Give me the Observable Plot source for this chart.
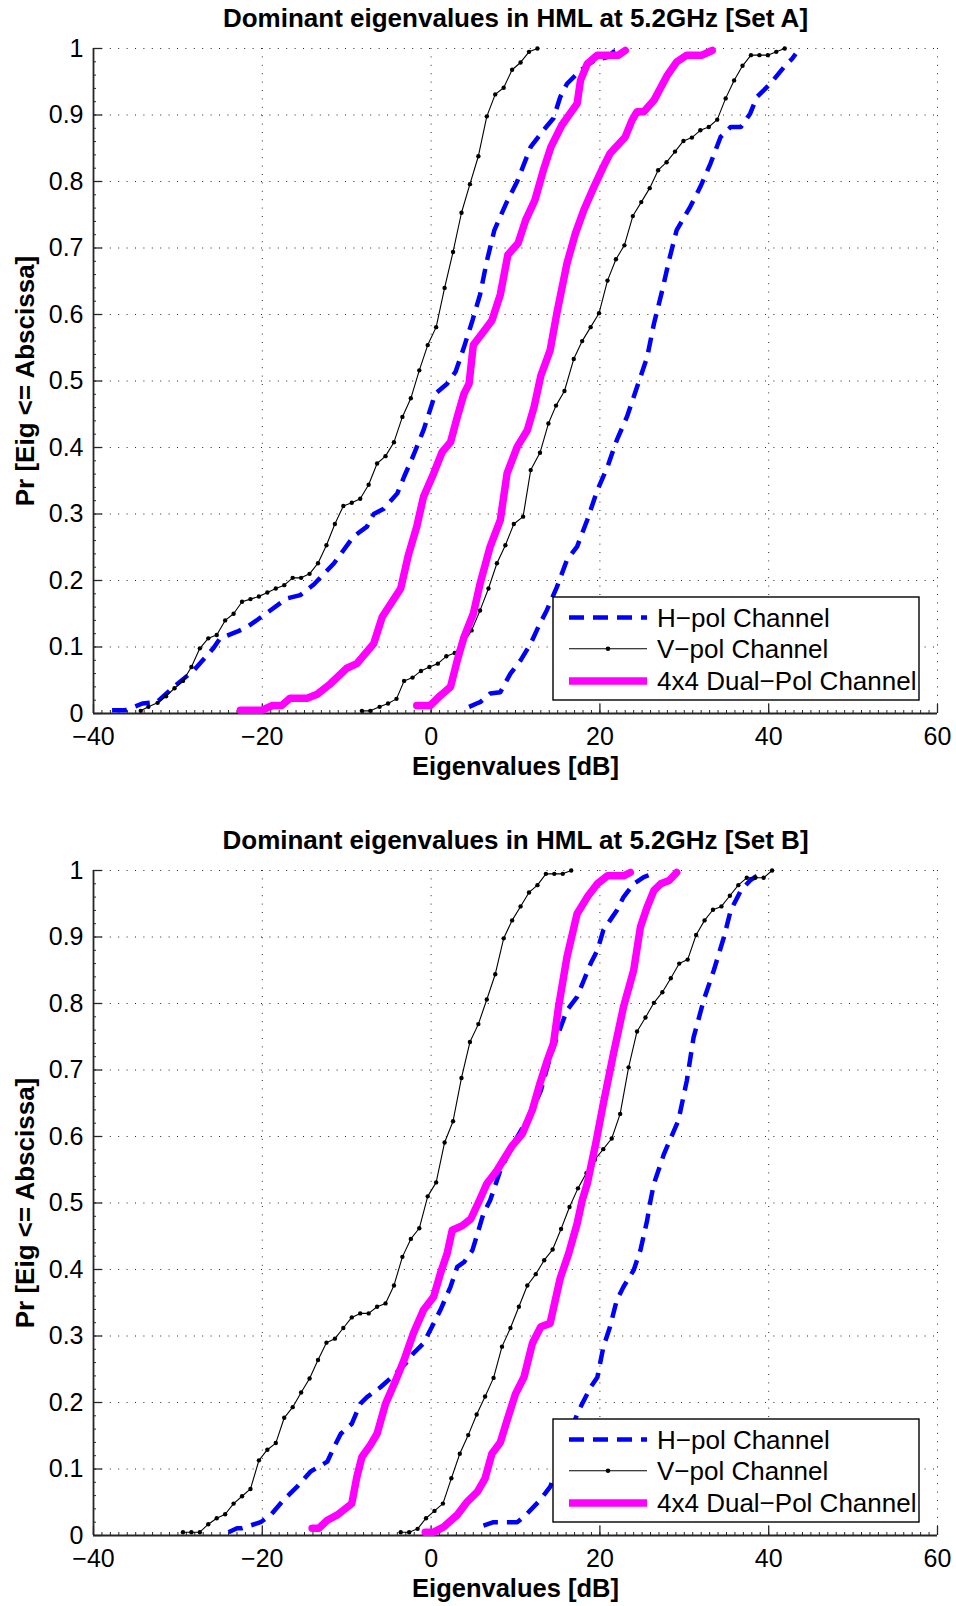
<!DOCTYPE html>
<html>
<head>
<meta charset="utf-8">
<script src="https://cdn.jsdelivr.net/npm/d3@7"></script>
<script src="https://cdn.jsdelivr.net/npm/@observablehq/plot@0.6"></script>
<style>
  html, body { margin: 0; padding: 0; background: #fff; }
  #charts svg { display: block; }
</style>
</head>
<body>
<div id="charts"></div>
<script>
// ---------- axis ticks ----------
const xTicks = [-40, -20, 0, 20, 40, 60];
const yTicks = [0, 0.1, 0.2, 0.3, 0.4, 0.5, 0.6, 0.7, 0.8, 0.9, 1];

// ---------- legend / text ----------
const seriesKeys = ["H", "V", "D"];
const seriesNames = ["H\u2212pol Channel", "V\u2212pol Channel", "4x4 Dual\u2212Pol Channel"];
const titles = ["Dominant eigenvalues in HML at 5.2GHz [Set A]", "Dominant eigenvalues in HML at 5.2GHz [Set B]"];
const xLabel = "Eigenvalues [dB]";
const yLabel = "Pr [Eig <= Abscissa]";

// ---------- Set A: empirical CDFs (eigenvalue in dB, probability) ----------
// H-pol, weaker eigenvalue
const aHLowDb = [-37.8, -36.2, -34.2, -32.5, -30.5, -28.1, -25.8, -25.0, -23.0, -21.8,
  -19.8, -17.1, -15.5, -13.9, -11.5, -9.2, -7.6, -6.8, -5.6, -4.0,
  -3.2, -2.1, -0.9, 0.5, 1.9, 2.9, 3.9, 4.9, 5.8, 6.6,
  7.5, 9.0, 10.2, 11.8, 13.3, 14.5, 15.3, 16.1, 17.7, 19.3,
  20.9, 21.6, 22.4];
const aHLowP = [0.005, 0.005, 0.015, 0.017, 0.040, 0.065, 0.098, 0.113, 0.123, 0.130,
  0.148, 0.173, 0.178, 0.194, 0.226, 0.266, 0.281, 0.300, 0.308, 0.331,
  0.356, 0.388, 0.426, 0.481, 0.496, 0.514, 0.551, 0.591, 0.630, 0.680,
  0.727, 0.770, 0.800, 0.852, 0.877, 0.895, 0.927, 0.947, 0.967, 0.982,
  0.987, 0.995, 0.997];
// H-pol, dominant eigenvalue
const aHHighDb = [4.5, 5.4, 5.8, 7.0, 8.2, 9.4, 10.6, 11.8, 12.7, 13.7,
  14.9, 16.1, 17.3, 18.5, 19.7, 20.9, 22.0, 23.2, 24.4, 25.6,
  26.4, 27.4, 28.2, 29.1, 30.7, 31.9, 33.1, 34.3, 35.5, 36.7,
  37.8, 38.6, 40.2, 41.8, 42.8, 43.2];
const aHHighP = [0.010, 0.015, 0.017, 0.030, 0.032, 0.060, 0.080, 0.105, 0.130, 0.155,
  0.190, 0.231, 0.251, 0.291, 0.336, 0.371, 0.411, 0.446, 0.491, 0.536,
  0.586, 0.637, 0.682, 0.727, 0.762, 0.792, 0.827, 0.867, 0.882, 0.882,
  0.902, 0.927, 0.947, 0.972, 0.985, 0.992];
// V-pol, weaker eigenvalue
const aVLowDb = [-34.4, -33.5, -32.4, -31.4, -30.4, -29.4, -28.4, -27.4, -26.4, -25.4,
  -24.4, -23.4, -22.4, -21.4, -20.4, -19.4, -18.4, -17.4, -16.4, -15.4,
  -14.4, -13.4, -12.4, -11.4, -10.4, -9.4, -8.4, -7.4, -6.4, -5.4,
  -4.4, -3.4, -2.4, -1.4, -0.4, 0.6, 1.6, 2.6, 3.6, 4.6,
  5.6, 6.6, 7.6, 8.6, 9.6, 10.6, 11.6, 12.6];
const aVLowP = [0.004, 0.010, 0.016, 0.026, 0.038, 0.049, 0.070, 0.098, 0.113, 0.118,
  0.140, 0.150, 0.168, 0.172, 0.176, 0.182, 0.188, 0.193, 0.204, 0.204,
  0.210, 0.226, 0.253, 0.285, 0.312, 0.317, 0.323, 0.344, 0.376, 0.387,
  0.408, 0.446, 0.474, 0.516, 0.554, 0.581, 0.640, 0.694, 0.753, 0.796,
  0.838, 0.898, 0.931, 0.941, 0.968, 0.979, 0.995, 1.0];
// V-pol, dominant eigenvalue
const aVHighDb = [-8.2, -7.2, -6.1, -5.1, -4.1, -3.2, -2.2, -1.2, -0.2, 0.8,
  1.8, 2.8, 3.8, 4.8, 5.8, 6.8, 7.8, 8.8, 9.8, 10.9,
  11.8, 12.9, 13.9, 14.8, 15.8, 16.9, 17.9, 18.9, 19.9, 20.9,
  21.9, 22.9, 23.9, 24.9, 25.9, 26.9, 27.9, 28.9, 29.9, 30.9,
  31.9, 32.9, 33.9, 34.9, 35.9, 36.9, 37.9, 38.9, 39.9, 40.9,
  41.9];
const aVHighP = [0.004, 0.004, 0.010, 0.015, 0.022, 0.049, 0.054, 0.064, 0.070, 0.075,
  0.086, 0.091, 0.105, 0.125, 0.155, 0.188, 0.226, 0.253, 0.285, 0.296,
  0.366, 0.392, 0.436, 0.463, 0.485, 0.533, 0.560, 0.581, 0.602, 0.651,
  0.683, 0.704, 0.748, 0.769, 0.790, 0.817, 0.829, 0.845, 0.861, 0.866,
  0.877, 0.882, 0.893, 0.925, 0.952, 0.974, 0.990, 0.990, 0.990, 0.995,
  1.0];
// 4x4 dual-pol, weaker eigenvalue
const aDLowDb = [-22.6, -20.0, -18.8, -17.7, -16.7, -14.7, -13.5, -11.9, -10.0, -8.8,
  -6.8, -5.8, -3.6, -2.7, -1.7, -0.9, 0.3, 1.3, 2.3, 3.1,
  3.9, 4.5, 5.0, 6.2, 7.2, 8.2, 9.1, 10.3, 11.2, 12.3,
  13.3, 14.2, 15.5, 17.3, 17.7, 18.5, 19.7, 22.2, 23.0];
const aDLowP = [0.005, 0.005, 0.012, 0.012, 0.023, 0.023, 0.029, 0.045, 0.068, 0.075,
  0.105, 0.145, 0.188, 0.238, 0.281, 0.326, 0.361, 0.393, 0.408, 0.446,
  0.481, 0.496, 0.554, 0.574, 0.591, 0.630, 0.690, 0.707, 0.742, 0.772,
  0.817, 0.852, 0.885, 0.917, 0.952, 0.977, 0.990, 0.990, 0.997];
// 4x4 dual-pol, dominant eigenvalue
const aDHighDb = [-1.7, -0.1, 1.1, 2.3, 3.1, 3.9, 5.0, 5.8, 7.0, 8.2,
  9.0, 10.2, 11.4, 12.2, 13.0, 14.1, 14.9, 16.1, 17.1, 18.1,
  19.3, 20.4, 21.2, 23.0, 23.8, 24.4, 25.2, 26.4, 28.0, 29.1,
  30.3, 32.1, 33.3];
const aDHighP = [0.012, 0.012, 0.027, 0.040, 0.080, 0.115, 0.150, 0.195, 0.251, 0.291,
  0.361, 0.401, 0.426, 0.461, 0.508, 0.546, 0.602, 0.677, 0.722, 0.757,
  0.792, 0.822, 0.842, 0.867, 0.892, 0.905, 0.905, 0.922, 0.960, 0.980,
  0.990, 0.990, 0.997];

// ---------- Set B ----------
const bHLowDb = [-24.0, -23.0, -22.4, -20.2, -19.0, -17.5, -15.9, -14.3, -12.3, -11.5,
  -10.7, -9.4, -8.4, -7.6, -6.0, -4.4, -3.0, -2.1, -0.9, 0.1,
  1.1, 2.3, 3.1, 3.9, 4.9, 5.5, 6.2, 7.0, 8.2, 9.6,
  11.8, 13.0, 14.1, 14.9, 16.1, 17.3, 18.1, 18.9, 19.7, 20.4,
  21.2, 22.0, 22.8, 24.0, 25.2, 26.2];
const bHLowP = [0.005, 0.011, 0.011, 0.020, 0.031, 0.053, 0.073, 0.096, 0.111, 0.133,
  0.153, 0.168, 0.198, 0.208, 0.223, 0.241, 0.259, 0.274, 0.289, 0.314,
  0.339, 0.374, 0.404, 0.411, 0.429, 0.454, 0.484, 0.504, 0.549, 0.586,
  0.634, 0.669, 0.719, 0.749, 0.790, 0.810, 0.835, 0.860, 0.880, 0.910,
  0.925, 0.940, 0.960, 0.980, 0.990, 0.995];
const bHHighDb = [6.2, 7.4, 10.2, 11.0, 12.9, 14.1, 15.3, 16.5, 17.3, 18.1,
  18.9, 19.7, 20.4, 21.2, 22.0, 22.8, 24.0, 24.8, 25.6, 26.0,
  26.4, 27.6, 29.3, 30.3, 31.1, 32.3, 33.5, 34.7, 35.5, 36.7,
  37.8, 38.6];
const bHHighP = [0.015, 0.020, 0.020, 0.028, 0.053, 0.073, 0.113, 0.153, 0.183, 0.203,
  0.223, 0.238, 0.283, 0.314, 0.354, 0.374, 0.399, 0.429, 0.474, 0.504,
  0.529, 0.574, 0.624, 0.684, 0.749, 0.805, 0.850, 0.900, 0.940, 0.970,
  0.985, 0.992];
const bVLowDb = [-29.4, -28.4, -27.4, -26.4, -25.4, -24.4, -23.4, -22.4, -21.4, -20.4,
  -19.4, -18.4, -17.4, -16.4, -15.4, -14.4, -13.4, -12.4, -11.4, -10.4,
  -9.4, -8.4, -7.4, -6.4, -5.4, -4.4, -3.4, -2.4, -1.4, -0.4,
  0.6, 1.6, 2.6, 3.6, 4.6, 5.6, 6.6, 7.6, 8.6, 9.6,
  10.6, 11.6, 12.6, 13.6, 14.6, 15.6, 16.6];
const bVLowP = [0.005, 0.005, 0.005, 0.017, 0.026, 0.032, 0.048, 0.059, 0.070, 0.113,
  0.129, 0.139, 0.177, 0.193, 0.215, 0.236, 0.264, 0.290, 0.296, 0.312,
  0.328, 0.334, 0.334, 0.344, 0.349, 0.376, 0.419, 0.446, 0.462, 0.510,
  0.531, 0.591, 0.623, 0.688, 0.742, 0.769, 0.806, 0.844, 0.898, 0.925,
  0.946, 0.967, 0.978, 0.995, 0.995, 0.995, 1.0];
const bVHighDb = [-3.6, -2.6, -1.6, -0.6, 0.4, 1.4, 2.4, 3.4, 4.4, 5.4,
  6.4, 7.4, 8.4, 9.4, 10.4, 11.4, 12.4, 13.4, 14.4, 15.4,
  16.4, 17.4, 18.4, 19.4, 20.4, 21.4, 22.4, 23.4, 24.4, 25.4,
  26.4, 27.4, 28.4, 29.4, 30.4, 31.4, 32.4, 33.4, 34.4, 35.4,
  36.4, 37.4, 38.4, 39.4, 40.4];
const bVHighP = [0.005, 0.005, 0.010, 0.026, 0.037, 0.048, 0.086, 0.123, 0.151, 0.182,
  0.209, 0.237, 0.284, 0.312, 0.344, 0.376, 0.393, 0.414, 0.430, 0.461,
  0.494, 0.522, 0.545, 0.565, 0.581, 0.597, 0.634, 0.704, 0.758, 0.779,
  0.801, 0.817, 0.838, 0.860, 0.866, 0.903, 0.925, 0.941, 0.946, 0.962,
  0.978, 0.989, 0.989, 0.989, 1.0];
const bDLowDb = [-14.1, -13.3, -12.3, -11.1, -9.4, -8.8, -8.2, -7.2, -6.4, -5.4,
  -4.2, -3.2, -2.1, -0.9, 0.3, 1.1, 1.9, 2.5, 3.7, 4.7,
  5.8, 6.6, 7.8, 9.6, 10.8, 12.0, 12.9, 13.7, 14.5, 15.1,
  16.1, 17.3, 18.5, 19.7, 20.9, 22.8, 23.6];
const bDLowP = [0.011, 0.011, 0.023, 0.031, 0.048, 0.088, 0.118, 0.136, 0.153, 0.198,
  0.233, 0.264, 0.304, 0.339, 0.359, 0.394, 0.424, 0.459, 0.466, 0.476,
  0.506, 0.529, 0.549, 0.586, 0.604, 0.640, 0.680, 0.712, 0.740, 0.795,
  0.870, 0.935, 0.960, 0.980, 0.992, 0.992, 0.997];
const bDHighDb = [-0.7, 0.3, 1.5, 3.1, 4.3, 5.5, 6.4, 7.2, 8.2, 9.0,
  10.0, 11.0, 12.0, 13.0, 14.1, 15.3, 16.3, 17.3, 17.9, 18.5,
  19.5, 20.4, 21.6, 22.8, 24.0, 24.8, 25.6, 26.4, 27.2, 28.2,
  29.1];
const bDHighP = [0.005, 0.005, 0.013, 0.031, 0.051, 0.066, 0.086, 0.123, 0.140, 0.173,
  0.213, 0.238, 0.289, 0.314, 0.319, 0.387, 0.424, 0.469, 0.504, 0.529,
  0.589, 0.649, 0.724, 0.795, 0.850, 0.915, 0.945, 0.970, 0.980, 0.985,
  0.997];

// ---------- tidy rows ----------
function trace(set, series, branch, db, p) {
  return db.map((x, i) => ({set, series, branch, x, p: p[i]}));
}
const curves = [
  ...trace("A", "H", "low", aHLowDb, aHLowP), ...trace("A", "H", "high", aHHighDb, aHHighP),
  ...trace("A", "V", "low", aVLowDb, aVLowP), ...trace("A", "V", "high", aVHighDb, aVHighP),
  ...trace("A", "D", "low", aDLowDb, aDLowP), ...trace("A", "D", "high", aDHighDb, aDHighP),
  ...trace("B", "H", "low", bHLowDb, bHLowP), ...trace("B", "H", "high", bHHighDb, bHHighP),
  ...trace("B", "V", "low", bVLowDb, bVLowP), ...trace("B", "V", "high", bVHighDb, bVHighP),
  ...trace("B", "D", "low", bDLowDb, bDLowP), ...trace("B", "D", "high", bDHighDb, bDHighP)
];

// ---------- styling ----------
const FONT = "'Liberation Sans', Arial, Helvetica, sans-serif";
const AXIS = "#262626";
const look = {
  H: {stroke: "#0000ff", strokeWidth: 4.5, strokeDasharray: "15,9", strokeLinecap: "butt"},
  V: {stroke: "#000000", strokeWidth: 1.1},
  D: {stroke: "#ff00ff", strokeWidth: 7.5, strokeLinejoin: "round"}
};
const fmtX = d => (d < 0 ? "\u2212" + Math.abs(d) : String(d));
const fmtY = d => (d === 0 || d === 1 ? String(d) : d.toFixed(1));

function drawLegend(svg, dims) {
  const right = dims.width - dims.marginRight - 18;
  const bottom = dims.height - dims.marginBottom - 13;
  const w = 366, h = 103, left = right - w, top = bottom - h;
  const rowY = [20.5, 51.7, 84];
  const g = d3.select(svg).append("g")
    .attr("font-family", FONT).attr("font-size", 26).attr("fill", "black")
    .attr("text-anchor", "start");
  g.append("rect").attr("x", left).attr("y", top).attr("width", w).attr("height", h)
    .attr("fill", "white").attr("stroke", "black").attr("stroke-width", 1.4);
  seriesKeys.forEach((k, i) => {
    const y = top + rowY[i], s = look[k];
    g.append("line").attr("x1", left + 16).attr("x2", left + 94).attr("y1", y).attr("y2", y)
      .attr("stroke", s.stroke).attr("stroke-width", s.strokeWidth)
      .attr("stroke-dasharray", s.strokeDasharray || null);
    if (k === "V") g.append("circle").attr("cx", left + 55).attr("cy", y).attr("r", 2.3).attr("fill", "black");
    g.append("text").attr("x", left + 104).attr("y", y).attr("dy", "0.36em")
      .attr("text-anchor", "start").text(seriesNames[i]);
  });
}

function chart(set, title, dims) {
  const rows = curves.filter(d => d.set === set);
  const of = k => rows.filter(d => d.series === k);
  const svg = Plot.plot({
    width: dims.width, height: dims.height,
    marginTop: dims.marginTop, marginRight: dims.marginRight,
    marginBottom: dims.marginBottom, marginLeft: dims.marginLeft,
    style: {fontFamily: FONT, background: "white", color: "black"},
    x: {domain: [xTicks[0], xTicks[xTicks.length - 1]]},
    y: {domain: [yTicks[0], yTicks[yTicks.length - 1]]},
    marks: [
      Plot.gridX(xTicks, {stroke: "#000", strokeOpacity: 0.85, strokeWidth: 1, strokeDasharray: "1,7.4"}),
      Plot.gridY(yTicks, {stroke: "#000", strokeOpacity: 0.85, strokeWidth: 1, strokeDasharray: "1,7.4"}),
      // small inward minor ticks
      Plot.axisX({ticks: 100, tickSize: 3, dy: -3, tickFormat: () => "", label: null, stroke: AXIS}),
      Plot.axisY({ticks: 50, tickSize: 3, dx: 3, tickFormat: () => "", label: null, stroke: AXIS}),
      // major inward ticks with labels
      Plot.axisX(xTicks, {tickSize: 9, dy: -9, tickPadding: 14, tickFormat: fmtX, label: null,
        fontSize: 25, stroke: AXIS, strokeWidth: 1.3}),
      Plot.axisY(yTicks, {tickSize: 9, dx: 9, tickPadding: 10, tickFormat: fmtY, label: null,
        fontSize: 25, stroke: AXIS, strokeWidth: 1.3}),
      Plot.ruleY([yTicks[0]], {stroke: AXIS, strokeWidth: 1.8}),
      Plot.ruleX([xTicks[0]], {stroke: AXIS, strokeWidth: 1.8}),
      Plot.line(of("H"), {x: "x", y: "p", z: "branch", ...look.H}),
      Plot.line(of("V"), {x: "x", y: "p", z: "branch", ...look.V}),
      Plot.dot(of("V"), {x: "x", y: "p", r: 2.2, fill: "black", stroke: null}),
      Plot.line(of("D"), {x: "x", y: "p", z: "branch", ...look.D}),
      Plot.text([title], {text: d => d, frameAnchor: "top", dy: -29.5,
        lineAnchor: "middle", textAnchor: "middle", fontSize: 26, fontWeight: "bold"}),
      Plot.text([xLabel], {text: d => d, frameAnchor: "bottom", dy: 53,
        lineAnchor: "middle", textAnchor: "middle", fontSize: 25.5, fontWeight: "bold"}),
      Plot.text([yLabel], {text: d => d, frameAnchor: "left", dx: -68, rotate: -90,
        lineAnchor: "middle", textAnchor: "middle", fontSize: 26, fontWeight: "bold"})
    ]
  });
  drawLegend(svg, dims);
  return svg;
}

const root = document.getElementById("charts");
root.appendChild(chart("A", titles[0],
  {width: 956, height: 822, marginTop: 48, marginRight: 19, marginBottom: 109, marginLeft: 93}));
root.appendChild(chart("B", titles[1],
  {width: 956, height: 784, marginTop: 48, marginRight: 19, marginBottom: 71, marginLeft: 93}));
</script>
</body>
</html>
